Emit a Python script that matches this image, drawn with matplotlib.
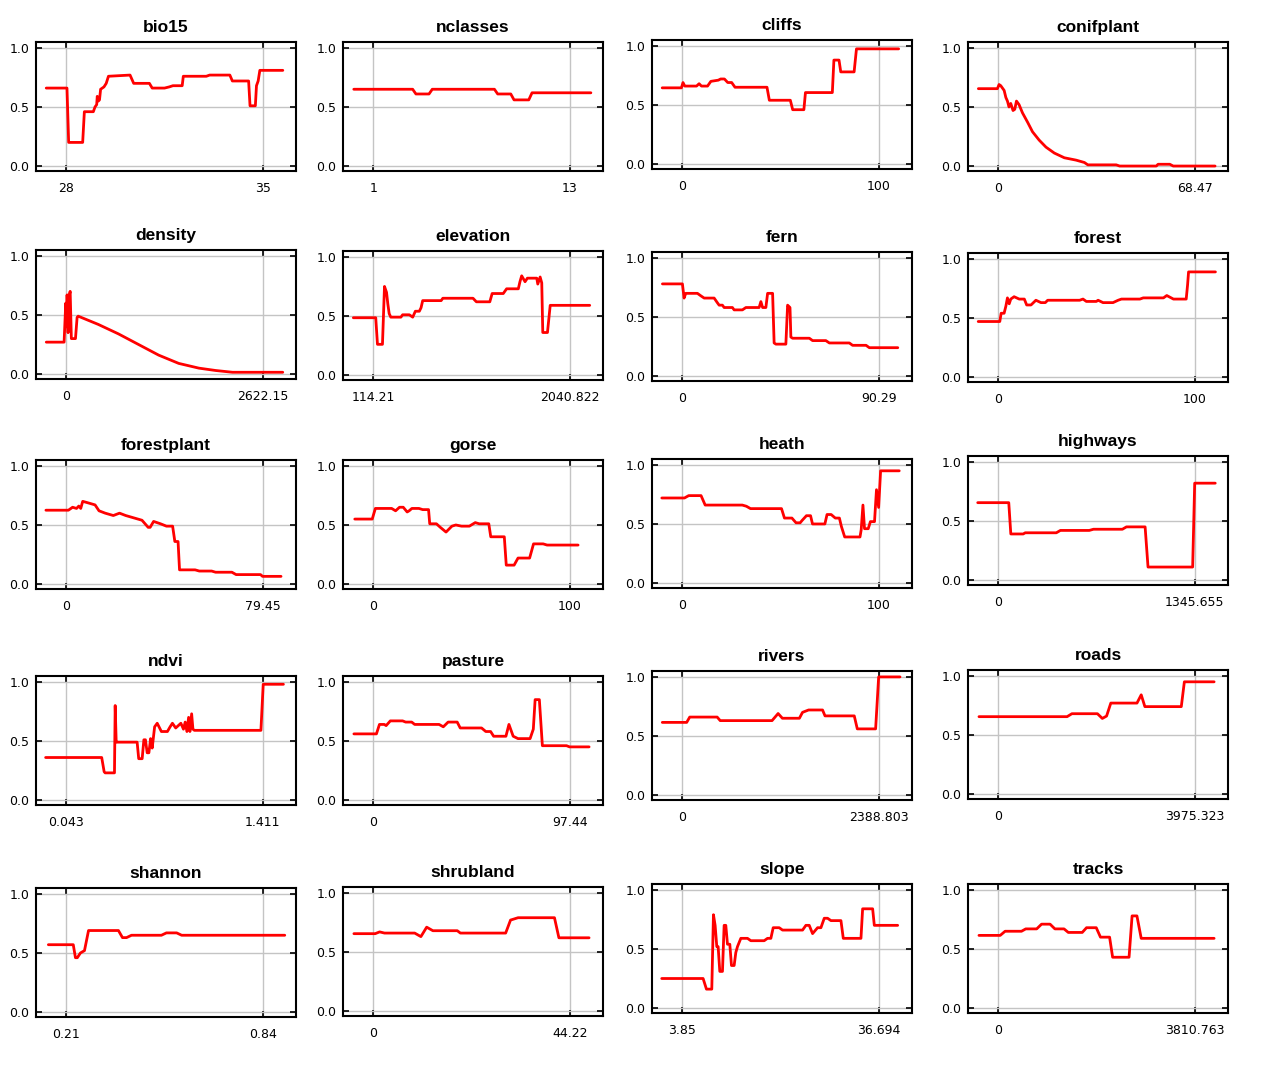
import matplotlib
matplotlib.use('Agg')
import matplotlib.pyplot as plt

plt.rcParams['font.family'] = ['DejaVu Sans']

##########################################################
# response curves (x in data units, y = probability)
##########################################################
#
names = ['bio15', 'nclasses', 'cliffs', 'conifplant',
         'density', 'elevation', 'fern', 'forest',
         'forestplant', 'gorse', 'heath', 'highways',
         'ndvi', 'pasture', 'rivers', 'roads',
         'shannon', 'shrubland', 'slope', 'tracks']

lo_labels = ['28', '1', '0', '0',
             '0', '114.21', '0', '0',
             '0', '0', '0', '0',
             '0.043', '0', '0', '0',
             '0.21', '0', '3.85', '0']
hi_labels = ['35', '13', '100', '68.47',
             '2622.15', '2040.822', '90.29', '100',
             '79.45', '100', '100', '1345.655',
             '1.411', '97.44', '2388.803', '3975.323',
             '0.84', '44.22', '36.694', '3810.763']

bio15 = [(27.28,0.66),(28.02,0.66),(28.08,0.20),(28.58,0.20),(28.64,0.46),(28.96,0.46),(29.02,0.50),
         (29.08,0.52),(29.10,0.59),(29.14,0.55),(29.18,0.56),(29.22,0.65),(29.34,0.67),(29.42,0.70),
         (29.50,0.76),(30.27,0.77),(30.40,0.70),(30.96,0.70),(31.06,0.66),(31.50,0.66),(31.67,0.67),
         (31.80,0.68),(32.13,0.68),(32.17,0.76),(32.99,0.76),(33.11,0.77),(33.83,0.77),(33.92,0.72),
         (34.50,0.72),(34.55,0.51),(34.74,0.51),(34.78,0.68),(34.84,0.72),(34.90,0.81),(35.72,0.81)]
nclasses = [(-0.2,0.65),(3.4,0.65),(3.6,0.61),(4.4,0.61),(4.6,0.65),(8.4,0.65),(8.6,0.61),(9.4,0.61),
            (9.6,0.56),(10.5,0.56),(10.7,0.62),(14.3,0.62)]
cliffs = [(-10.3,0.645),(-0.5,0.645),(0.3,0.69),(1.2,0.66),(7.2,0.66),(8.5,0.68),(9.7,0.66),(12.8,0.66),
          (14.5,0.70),(18.3,0.71),(19.5,0.72),(21.4,0.72),(23.1,0.69),(25.1,0.69),(26.8,0.65),(43.1,0.65),
          (44.3,0.54),(55.0,0.54),(56.2,0.46),(61.9,0.46),(62.7,0.605),(76.4,0.605),(77.2,0.88),(79.8,0.88),
          (80.7,0.78),(87.5,0.78),(88.7,0.975),(110.2,0.975)]
conifplant = [(-7.0,0.655),(-0.35,0.655),(0.23,0.69),(0.82,0.68),(2.0,0.64),(2.6,0.58),(3.15,0.55),
              (3.7,0.50),(4.3,0.53),(5.1,0.47),(5.7,0.48),(6.3,0.55),(7.2,0.52),(8.4,0.45),(10.2,0.37),
              (11.9,0.29),(14.2,0.22),(16.6,0.16),(19.5,0.11),(23.0,0.07),(27.1,0.05),(30.0,0.03),
              (31.2,0.01),(41.1,0.01),(42.3,0.0),(55.1,0.0),(55.7,0.015),(59.8,0.015),(61.0,0.0),(75.6,0.0)]
density = [(-269,0.27),(-31,0.27),(-9,0.60),(0,0.40),(9,0.67),(22,0.35),(36,0.66),(50,0.70),(66,0.30),
           (121,0.30),(143,0.48),(157,0.49),(426,0.42),(695,0.34),(964,0.25),(1233,0.16),(1501,0.09),
           (1770,0.05),(1994,0.03),(2219,0.015),(2891,0.015)]
elevation = [(-83,0.485),(137,0.485),(154,0.26),(203,0.26),(223,0.75),(243,0.70),(256,0.60),(269,0.52),
             (285,0.49),(384,0.49),(401,0.51),(467,0.51),(500,0.49),(526,0.54),(565,0.54),(582,0.57),
             (598,0.63),(779,0.63),(796,0.65),(1092,0.65),(1125,0.62),(1257,0.62),(1280,0.69),(1389,0.69),
             (1422,0.73),(1537,0.73),(1553,0.79),(1570,0.84),(1603,0.79),(1626,0.82),(1718,0.82),(1728,0.77),
             (1751,0.83),(1767,0.78),(1777,0.36),(1823,0.36),(1850,0.59),(2238,0.59)]
fern = [(-9.2,0.78),(0,0.78),(0.77,0.66),(1.54,0.70),(6.9,0.70),(8.4,0.68),(10.0,0.66),(14.6,0.66),
        (16.1,0.62),(16.9,0.60),(18.4,0.60),(19.2,0.58),(23.0,0.58),(23.8,0.56),(27.6,0.56),(29.2,0.58),
        (35.3,0.58),(36.1,0.63),(36.9,0.58),(38.4,0.58),(39.2,0.70),(41.5,0.70),(42.2,0.28),(43.0,0.27),
        (47.6,0.27),(48.4,0.60),(49.5,0.58),(49.9,0.33),(50.7,0.32),(58.4,0.32),(59.9,0.30),(66.0,0.30),
        (67.6,0.28),(76.8,0.28),(78.3,0.26),(84.5,0.26),(86.0,0.24),(99.1,0.24)]
forest = [(-10.3,0.47),(0.7,0.47),(1.4,0.54),(2.9,0.54),(3.8,0.60),(4.6,0.67),(5.5,0.62),(6.3,0.66),
          (8.0,0.68),(10.6,0.66),(13.2,0.66),(14.4,0.61),(16.6,0.61),(19.1,0.65),(21.7,0.63),(23.9,0.63),
          (25.1,0.65),(41.4,0.65),(43.1,0.66),(44.8,0.64),(49.9,0.64),(50.8,0.65),(53.3,0.63),(58.4,0.63),
          (61.0,0.65),(62.7,0.66),(72.1,0.66),(73.8,0.67),(84.1,0.67),(85.8,0.69),(89.2,0.66),(95.7,0.66),
          (96.4,0.78),(96.9,0.89),(110.6,0.89)]
forestplant = [(-8.3,0.625),(0.8,0.625),(2.5,0.65),(4.1,0.64),(5.0,0.66),(5.8,0.64),(6.6,0.70),(8.3,0.69),
               (11.6,0.67),(13.2,0.62),(15.7,0.60),(19.0,0.58),(21.5,0.60),(24.0,0.58),(27.3,0.56),
               (30.6,0.54),(33.1,0.48),(33.9,0.48),(35.3,0.53),(38.1,0.51),(40.5,0.49),(43.0,0.49),
               (43.9,0.36),(45.2,0.36),(45.8,0.12),(52.1,0.12),(53.8,0.11),(58.8,0.11),(60.4,0.10),
               (67.0,0.10),(68.7,0.08),(78.6,0.08),(79.4,0.065),(86.9,0.065)]
gorse = [(-9.5,0.55),(-0.6,0.55),(1.0,0.64),(9.3,0.64),(11.3,0.62),(13.3,0.65),(15.2,0.65),(17.2,0.61),
         (18.2,0.62),(19.6,0.64),(23.2,0.64),(25.1,0.63),(28.1,0.63),(28.7,0.51),(32.1,0.51),(34.1,0.48),
         (37.0,0.44),(40.0,0.49),(42.0,0.50),(44.9,0.49),(48.9,0.49),(51.9,0.52),(53.9,0.51),(58.8,0.51),
         (59.8,0.40),(66.7,0.40),(67.7,0.16),(71.7,0.16),(73.7,0.22),(79.6,0.22),(81.6,0.34),(86.5,0.34),
         (88.5,0.33),(104.3,0.33)]
heath = [(-10.5,0.72),(1.05,0.72),(3.2,0.74),(9.5,0.74),(11.6,0.66),(30.5,0.66),(32.6,0.65),(34.7,0.63),
         (50.5,0.63),(52.0,0.55),(55.8,0.55),(57.9,0.51),(60.0,0.51),(61.0,0.53),(63.2,0.57),(65.3,0.57),
         (66.3,0.50),(72.6,0.50),(73.7,0.58),(75.8,0.58),(77.9,0.55),(80.0,0.55),(81.0,0.48),(82.7,0.39),
         (90.5,0.39),(91.1,0.45),(92.0,0.66),(92.8,0.46),(94.7,0.46),(95.8,0.52),(97.9,0.52),(98.9,0.79),
         (100.0,0.64),(101.0,0.95),(110.5,0.95)]
highways = [(-142,0.655),(71,0.655),(85,0.39),(170,0.39),(184,0.40),(397,0.40),(425,0.42),(623,0.42),
            (652,0.43),(850,0.43),(878,0.45),(1006,0.45),(1026,0.11),(1332,0.11),(1346,0.82),(1487,0.82)]
ndvi = [(-0.102,0.36),(0.289,0.36),(0.306,0.24),(0.313,0.23),(0.378,0.23),(0.383,0.80),(0.390,0.49),
        (0.395,0.49),(0.536,0.49),(0.547,0.35),(0.571,0.35),(0.583,0.51),(0.594,0.51),(0.606,0.40),
        (0.618,0.40),(0.630,0.52),(0.641,0.44),(0.658,0.62),(0.676,0.65),(0.705,0.58),(0.747,0.58),
        (0.766,0.62),(0.782,0.65),(0.805,0.61),(0.841,0.65),(0.859,0.60),(0.871,0.66),(0.883,0.58),
        (0.895,0.70),(0.904,0.58),(0.916,0.73),(0.925,0.60),(0.935,0.59),(1.399,0.59),(1.415,0.98),
        (1.556,0.98)]
pasture = [(-9.7,0.56),(1.5,0.56),(3.0,0.64),(5.4,0.64),(6.3,0.63),(8.4,0.67),(14.5,0.67),(16.0,0.66),
           (19.0,0.66),(20.5,0.64),(32.6,0.64),(34.7,0.62),(37.1,0.66),(41.6,0.66),(43.1,0.61),(53.7,0.61),
           (55.8,0.58),(58.2,0.58),(59.7,0.54),(65.8,0.54),(67.3,0.64),(69.4,0.54),(71.8,0.52),(77.8,0.52),
           (79.4,0.60),(80.3,0.85),(82.4,0.85),(83.9,0.46),(95.9,0.46),(97.4,0.45),(107.1,0.45)]
rivers = [(-245,0.615),(52,0.615),(89,0.66),(423,0.66),(460,0.63),(1091,0.63),(1165,0.69),(1217,0.65),
          (1424,0.65),(1462,0.70),(1536,0.72),(1706,0.72),(1736,0.67),(2092,0.67),(2129,0.56),(2352,0.56),
          (2389,1.0),(2649,1.0)]
roads = [(-394,0.655),(1391,0.655),(1489,0.68),(2006,0.68),(2105,0.64),(2191,0.66),(2277,0.77),(2807,0.77),
         (2893,0.84),(2967,0.74),(3705,0.74),(3767,0.95),(4370,0.95)]
shannon = [(0.152,0.57),(0.232,0.57),(0.239,0.46),(0.245,0.46),(0.255,0.50),(0.268,0.52),(0.281,0.69),
           (0.377,0.69),(0.390,0.63),(0.403,0.63),(0.419,0.65),(0.515,0.65),(0.531,0.67),(0.564,0.67),
           (0.580,0.65),(0.911,0.65)]
shrubland = [(-4.4,0.655),(0.4,0.655),(1.4,0.67),(2.5,0.66),(9.3,0.66),(10.7,0.63),(12.0,0.71),(13.4,0.68),
             (18.9,0.68),(19.6,0.66),(29.8,0.66),(30.9,0.77),(32.6,0.79),(40.8,0.79),(41.8,0.62),(48.6,0.62)]
slope = [(0.387,0.25),(7.313,0.25),(7.872,0.16),(8.766,0.16),(9.045,0.79),(9.324,0.70),(9.604,0.52),
         (9.827,0.52),(10.106,0.31),(10.553,0.31),(10.833,0.70),(11.112,0.70),(11.391,0.54),(11.782,0.54),
         (12.061,0.36),(12.508,0.36),(12.788,0.47),(13.067,0.52),(13.626,0.59),(14.743,0.59),(15.301,0.57),
         (17.536,0.57),(18.094,0.59),(18.653,0.59),(19.044,0.68),(20.049,0.68),(20.608,0.66),(23.960,0.66),
         (24.518,0.70),(25.077,0.70),(25.635,0.63),(26.473,0.68),(27.032,0.68),(27.591,0.76),(28.149,0.76),
         (28.708,0.74),(30.384,0.74),(30.775,0.59),(33.735,0.59),(34.014,0.84),(35.690,0.84),(35.970,0.70),
         (39.880,0.70)]
tracks = [(-378,0.615),(35,0.615),(130,0.65),(448,0.65),(531,0.67),(743,0.67),(838,0.71),(1003,0.71),
          (1097,0.67),(1274,0.67),(1357,0.64),(1628,0.64),(1711,0.68),(1900,0.68),(1982,0.60),(2159,0.60),
          (2218,0.43),(2537,0.43),(2596,0.78),(2690,0.78),(2773,0.59),(4189,0.59)]

curves = [bio15, nclasses, cliffs, conifplant, density, elevation, fern, forest,
          forestplant, gorse, heath, highways, ndvi, pasture, rivers, roads,
          shannon, shrubland, slope, tracks]

##########################################################
# layout (pixels of the 1261x1065 figure)
##########################################################
#
W, H = 1261, 1065
col_left = [36, 343, 652, 968]
panel_top = [42, 42, 40, 42,
             250, 251, 252, 253,
             460, 460, 459, 456,
             676, 676, 671, 670,
             888, 887, 884, 884]
ax_w, ax_h = 260, 129

fig = plt.figure(figsize=(W/100, H/100), dpi=100)

for i, name in enumerate(names):
    c = i % 4
    ax = fig.add_axes([col_left[c]/W, 1-(panel_top[i]+ax_h)/H, ax_w/W, ax_h/H])
    x, y = zip(*curves[i])
    ax.plot(x, y, color='#ff0000', lw=2.0, solid_joinstyle='round', solid_capstyle='round', zorder=3)

    lo, hi = float(lo_labels[i]), float(hi_labels[i])
    rng = hi - lo
    ax.set_xlim(lo-0.155*rng, hi+0.17*rng)
    ax.set_ylim(-0.042, 1.05)
    ax.set_xticks([lo, hi])
    ax.set_xticklabels([lo_labels[i], hi_labels[i]])
    ax.set_yticks([0, 0.5, 1.0])
    ax.set_yticklabels(['0.0', '0.5', '1.0'])
    ax.grid(color='#c4c4c4', lw=1.0)
    ax.set_axisbelow(True)
    ax.tick_params(direction='in', top=True, right=True, length=4, width=1.2, labelsize=9)
    ax.tick_params(axis='x', pad=8)
    ax.tick_params(axis='y', pad=5)
    for s in ax.spines.values():
        s.set_linewidth(1.5)
    ax.set_title(name, fontweight='bold', fontsize=12.5, pad=7, family=['Liberation Sans', 'DejaVu Sans'])

fig.savefig('out.png', dpi=100)
